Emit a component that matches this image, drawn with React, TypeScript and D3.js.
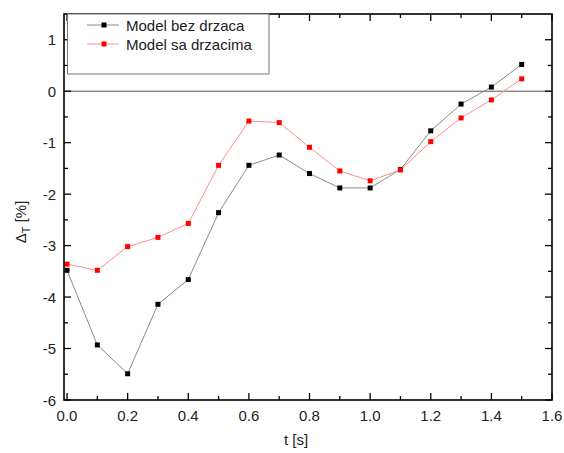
import React from "react";
import * as d3 from "d3";

// Time steps [s]
const times = [0, 0.1, 0.2, 0.3, 0.4, 0.5, 0.6, 0.7, 0.8, 0.9, 1.0, 1.1, 1.2, 1.3, 1.4, 1.5];
// Relative deviation ΔT [%] for both models
const bezDrzaca = [-3.48, -4.93, -5.49, -4.14, -3.66, -2.36, -1.44, -1.24, -1.6, -1.88, -1.88, -1.52, -0.77, -0.25, 0.08, 0.52];
const saDrzacima = [-3.36, -3.48, -3.02, -2.84, -2.57, -1.44, -0.58, -0.61, -1.09, -1.55, -1.74, -1.53, -0.98, -0.52, -0.17, 0.24];
const seriesNames = ["Model bez drzaca", "Model sa drzacima"];
const xTickValues = [0, 0.2, 0.4, 0.6, 0.8, 1.0, 1.2, 1.4, 1.6];
const yTickValues = [-6, -5, -4, -3, -2, -1, 0, 1];

const W = 564;
const H = 453;
const left = 64, right = 552, top = 14, bottom = 400;
const FONT = "'Liberation Sans', Arial, sans-serif";
const FS = 15;

export default function App() {
  const x = d3.scaleLinear().domain([-0.01, 1.6]).range([left, right]);
  const y = d3.scaleLinear().domain([-6, 1.5]).range([bottom, top]);

  const series = [
    { name: seriesNames[0], values: bezDrzaca, line: "#8a8a8a", marker: "#000000" },
    { name: seriesNames[1], values: saDrzacima, line: "#ff8c8c", marker: "#ff0000" },
  ];

  const lineGen = d3
    .line<number>()
    .x((_, i) => x(times[i]))
    .y((v) => y(v));

  const xMinor = d3.range(0.1, 1.6, 0.2);
  const yMinor = d3.range(-5.5, 1.5, 1);
  const major = 7;
  const minor = 4;
  const ms = 5;

  return (
    <svg width={W} height={H} style={{ position: "absolute", left: 0, top: 0, background: "#fff" }}>
      {/* zero reference line */}
      <line x1={left} x2={right} y1={y(0)} y2={y(0)} stroke="#555" strokeWidth={1} />

      {/* series */}
      {series.map((s) => (
        <g key={s.name}>
          <path d={lineGen(s.values) || ""} fill="none" stroke={s.line} strokeWidth={1} />
          {s.values.map((v, i) => (
            <rect key={i} x={x(times[i]) - ms / 2} y={y(v) - ms / 2} width={ms} height={ms} fill={s.marker} />
          ))}
        </g>
      ))}

      {/* ticks, pointing inward on all four sides */}
      <g stroke="#000" strokeWidth={1.3}>
        {xTickValues.map((t) => (
          <g key={"xt" + t}>
            <line x1={x(t)} x2={x(t)} y1={bottom} y2={bottom - major} />
            <line x1={x(t)} x2={x(t)} y1={top} y2={top + major} />
          </g>
        ))}
        {xMinor.map((t) => (
          <g key={"xm" + t}>
            <line x1={x(t)} x2={x(t)} y1={bottom} y2={bottom - minor} />
            <line x1={x(t)} x2={x(t)} y1={top} y2={top + minor} />
          </g>
        ))}
        {yTickValues.map((t) => (
          <g key={"yt" + t}>
            <line x1={left} x2={left + major} y1={y(t)} y2={y(t)} />
            <line x1={right} x2={right - major} y1={y(t)} y2={y(t)} />
          </g>
        ))}
        {yMinor.map((t) => (
          <g key={"ym" + t}>
            <line x1={left} x2={left + minor} y1={y(t)} y2={y(t)} />
            <line x1={right} x2={right - minor} y1={y(t)} y2={y(t)} />
          </g>
        ))}
      </g>

      {/* frame */}
      <rect x={left} y={top} width={right - left} height={bottom - top} fill="none" stroke="#000" strokeWidth={1.6} />

      {/* tick labels */}
      <g fontFamily={FONT} fontSize={FS} fill="#222">
        {xTickValues.map((t) => (
          <text key={"xl" + t} x={x(t)} y={bottom + 21} textAnchor="middle">
            {d3.format(".1f")(t)}
          </text>
        ))}
        {yTickValues.map((t) => (
          <text key={"yl" + t} x={left - 8} y={y(t) + 5.5} textAnchor="end">
            {t}
          </text>
        ))}
      </g>

      {/* axis titles */}
      <text x={(left + right) / 2 - 12} y={445} fontFamily={FONT} fontSize={FS} fill="#222" textAnchor="middle">
        t [s]
      </text>
      <text
        transform={`translate(26, 222) rotate(-90)`}
        fontFamily={FONT}
        fontSize={FS}
        fill="#222"
        textAnchor="middle"
      >
        Δ<tspan fontSize={11} dy={4}>T</tspan>
        <tspan dy={-4}> [%]</tspan>
      </text>

      {/* legend */}
      <rect x={67.5} y={top} width={201.5} height={60} fill="#fff" stroke="#777" strokeWidth={1} />
      {series.map((s, i) => {
        const ly = 25 + i * 19;
        return (
          <g key={"lg" + s.name}>
            <line x1={87} x2={119} y1={ly} y2={ly} stroke={s.line} strokeWidth={1} />
            <rect x={104 - ms / 2} y={ly - ms / 2} width={ms} height={ms} fill={s.marker} />
            <text x={126} y={ly + 5.5} fontFamily={FONT} fontSize={FS} fill="#222">
              {s.name}
            </text>
          </g>
        );
      })}
    </svg>
  );
}
